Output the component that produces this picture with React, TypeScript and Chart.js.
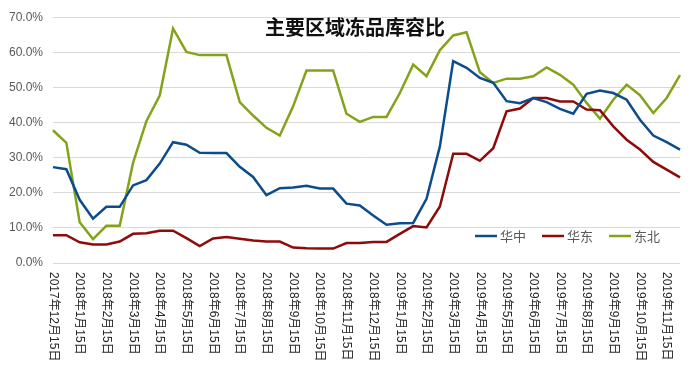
import React, { useEffect, useRef } from 'react';
import { Chart, registerables } from 'chart.js';

Chart.register(...registerables);

const categories: string[] = [
  '2017年12月15日', '2017年12月31日',
  '2018年1月15日', '2018年1月31日',
  '2018年2月15日', '2018年2月28日',
  '2018年3月15日', '2018年3月31日',
  '2018年4月15日', '2018年4月30日',
  '2018年5月15日', '2018年5月31日',
  '2018年6月15日', '2018年6月30日',
  '2018年7月15日', '2018年7月31日',
  '2018年8月15日', '2018年8月31日',
  '2018年9月15日', '2018年9月30日',
  '2018年10月15日', '2018年10月31日',
  '2018年11月15日', '2018年11月30日',
  '2018年12月15日', '2018年12月31日',
  '2019年1月15日', '2019年1月31日',
  '2019年2月15日', '2019年2月28日',
  '2019年3月15日', '2019年3月31日',
  '2019年4月15日', '2019年4月30日',
  '2019年5月15日', '2019年5月31日',
  '2019年6月15日', '2019年6月30日',
  '2019年7月15日', '2019年7月31日',
  '2019年8月15日', '2019年8月31日',
  '2019年9月15日', '2019年9月30日',
  '2019年10月15日', '2019年10月31日',
  '2019年11月15日', '2019年11月30日',
];

const huazhong: number[] = [
  27.3, 26.7, 18.0, 12.6, 16.0, 16.0, 22.1, 23.6, 28.3, 34.4,
  33.7, 31.4, 31.3, 31.3, 27.4, 24.5, 19.3, 21.3, 21.5, 22.0,
  21.2, 21.2, 16.9, 16.4, 13.5, 10.9, 11.3, 11.4, 18.3, 33.2,
  57.5, 55.6, 52.7, 51.3, 46.1, 45.5, 47.0, 45.8, 43.9, 42.5,
  48.2, 49.1, 48.4, 46.5, 40.8, 36.3, 34.4, 32.3,
];

const huadong: number[] = [
  7.9, 7.9, 5.9, 5.3, 5.3, 6.1, 8.3, 8.5, 9.2, 9.2,
  7.1, 4.8, 7.0, 7.4, 6.9, 6.4, 6.1, 6.1, 4.4, 4.2,
  4.1, 4.1, 5.7, 5.7, 6.0, 6.0, 8.3, 10.5, 10.1, 16.1,
  31.1, 31.1, 29.1, 32.7, 43.2, 44.0, 47.0, 47.0, 46.0, 46.0,
  43.7, 43.5, 38.9, 35.1, 32.3, 28.8, 26.6, 24.4,
];

const dongbei: number[] = [
  37.8, 34.2, 11.6, 6.8, 10.6, 10.6, 28.5, 40.4, 47.7, 66.8,
  60.1, 59.2, 59.2, 59.2, 45.8, 42.0, 38.5, 36.3, 44.6, 54.8,
  54.8, 54.8, 42.5, 40.2, 41.6, 41.6, 48.4, 56.5, 53.2, 60.6,
  64.8, 65.7, 54.3, 51.3, 52.5, 52.5, 53.2, 55.7, 53.6, 50.8,
  45.6, 41.1, 46.5, 50.8, 47.8, 42.7, 47.0, 53.5,
];

const seriesNames: string[] = ['华中', '华东', '东北'];
const seriesColors: string[] = ['#0D4C8C', '#8E0B0B', '#84A31A'];
const titleText = '主要区域冻品库容比';
const yMin = 0;
const yMax = 70;
const yStep = 10;

const overlayPlugin = {
  id: 'overlay',
  afterDraw(chart: any) {
    const ctx: CanvasRenderingContext2D = chart.ctx;
    const xs = chart.scales.x;
    const area = chart.chartArea;
    ctx.save();

    // x-axis labels, rotated clockwise, every other category
    ctx.font = '12px "Liberation Sans", "Noto Sans CJK SC", sans-serif';
    ctx.fillStyle = '#262626';
    ctx.textAlign = 'left';
    ctx.textBaseline = 'middle';
    categories.forEach((c, i) => {
      if (i % 2 !== 0) return;
      const x = xs.getPixelForValue(i);
      ctx.save();
      ctx.translate(x, area.bottom + 9);
      ctx.rotate(Math.PI / 2);
      ctx.fillText(c, 0, 0);
      ctx.restore();
    });

    // title
    ctx.font = 'bold 20px "Noto Sans CJK SC", sans-serif';
    ctx.fillStyle = '#111111';
    ctx.textAlign = 'center';
    ctx.textBaseline = 'middle';
    ctx.fillText(titleText, chart.width / 2 + 5, area.top + 10);

    // legend
    ctx.font = '13px "Noto Sans CJK SC", sans-serif';
    ctx.textAlign = 'left';
    ctx.textBaseline = 'middle';
    let lx = area.right - 205;
    const ly = area.bottom - 27;
    chart.data.datasets.forEach((ds: any) => {
      ctx.strokeStyle = ds.borderColor;
      ctx.lineWidth = 2.5;
      ctx.beginPath();
      ctx.moveTo(lx, ly);
      ctx.lineTo(lx + 22, ly);
      ctx.stroke();
      ctx.fillStyle = '#595959';
      ctx.fillText(ds.label, lx + 25, ly);
      const w = ctx.measureText(ds.label).width;
      lx += 25 + w + 16;
    });

    ctx.restore();
  },
};

export default function App() {
  const canvasRef = useRef<HTMLCanvasElement | null>(null);

  useEffect(() => {
    document.body.style.margin = '0';
    const canvas = canvasRef.current;
    if (!canvas) return;
    const seriesData = [huazhong, huadong, dongbei];
    const chart = new Chart(canvas, {
      type: 'line',
      data: {
        labels: categories,
        datasets: seriesNames.map((name, i) => ({
          label: name,
          data: seriesData[i],
          borderColor: seriesColors[i],
          backgroundColor: seriesColors[i],
          borderWidth: 2.5,
          pointRadius: 0,
          pointHoverRadius: 0,
          tension: 0,
          fill: false,
        })),
      },
      options: {
        animation: false,
        responsive: true,
        maintainAspectRatio: false,
        layout: { padding: { left: 0, right: 20, top: 17, bottom: 0 } },
        plugins: {
          legend: { display: false },
          title: { display: false },
          tooltip: { enabled: false },
        },
        scales: {
          x: {
            type: 'category',
            offset: false,
            grid: { display: false },
            border: { display: false },
            ticks: { display: false },
            afterFit: (s: any) => {
              s.height = 124;
            },
          },
          y: {
            min: yMin,
            max: yMax,
            grid: { color: '#D9D9D9', lineWidth: 1, drawTicks: false },
            border: { display: false },
            ticks: {
              stepSize: yStep,
              padding: 10,
              color: '#595959',
              font: { family: '"Liberation Sans", sans-serif', size: 12 },
              callback: (v: any) => Number(v).toFixed(1) + '%',
            },
            afterFit: (s: any) => {
              s.width = 53;
            },
          },
        },
      },
      plugins: [overlayPlugin],
    });
    return () => chart.destroy();
  }, []);

  return (
    <div style={{ width: 700, height: 387, position: 'relative', background: '#ffffff' }}>
      <canvas ref={canvasRef} />
    </div>
  );
}
